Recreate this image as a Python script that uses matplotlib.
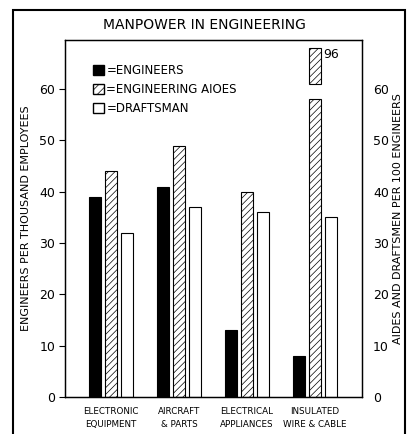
import matplotlib.pyplot as plt
from matplotlib.patches import Rectangle, Patch

categories = ['ELECTRONIC\nEQUIPMENT', 'AIRCRAFT\n& PARTS', 'ELECTRICAL\nAPPLIANCES', 'INSULATED\nWIRE & CABLE']
engineers = [39, 41, 13, 8]
aides = [44, 49, 40, 96]
draftsmen = [32, 37, 36, 35]

# the 96 bar is drawn broken: lower part up to 58, upper piece 61..68
break_low = 58
break_high = 61
break_top = 68

plt.rcParams['font.family'] = 'DejaVu Sans'
plt.rcParams['hatch.linewidth'] = 0.5
plt.rcParams['hatch.color'] = '#555555'

fig = plt.figure(figsize=(4.09, 4.34), dpi=100)
ax = fig.add_axes([0.159, 0.0853, 0.726, 0.823])

x = list(range(len(categories)))
off = 0.235
w = 0.175

ax.bar([i - off for i in x], engineers, w, color='black', edgecolor='black', lw=0.8)

aides_draw = [v if v < break_top else break_low for v in aides]
ax.bar(x, aides_draw, w, color='white', edgecolor='black', hatch='/////', lw=0.8)
for i, v in enumerate(aides):
    if v >= break_top:
        ax.bar(i, break_top - break_high, w, bottom=break_high, color='white',
               edgecolor='black', hatch='/////', lw=0.8)
        ax.text(i + 0.12, break_top - 1.2, str(v), fontsize=9, ha='left', va='center')

ax.bar([i + off for i in x], draftsmen, w, color='white', edgecolor='black', lw=0.8)

ax.set_xlim(-0.676, 3.69)
ax.set_ylim(0, 69.6)
ax.set_xticks(x)
ax.set_xticklabels(categories, fontsize=6.3, linespacing=1.6)
ax.tick_params(axis='x', length=0, pad=7)
ax.set_yticks(range(0, 70, 10))
ax.tick_params(axis='y', labelsize=9, length=4, direction='out', pad=3)
ax.set_ylabel('ENGINEERS PER THOUSAND EMPLOYEES', fontsize=8, labelpad=6)

ax2 = ax.twinx()
ax2.set_ylim(0, 69.6)
ax2.set_yticks(range(0, 70, 10))
ax2.tick_params(axis='y', labelsize=9, length=0, pad=8)
ax2.set_ylabel('AIDES AND DRAFTSMEN PER 100 ENGINEERS', fontsize=8, labelpad=3)

for a in (ax, ax2):
    for s in a.spines.values():
        s.set_linewidth(0.9)

handles = [Patch(facecolor='black', edgecolor='black'),
           Patch(facecolor='white', edgecolor='black', hatch='////'),
           Patch(facecolor='white', edgecolor='black')]
labels = ['=ENGINEERS', '=ENGINEERING AIOES', '=DRAFTSMAN']
ax.legend(handles, labels, loc='upper left', bbox_to_anchor=(0.06, 0.962), frameon=False,
          fontsize=8.5, handlelength=0.9, handleheight=0.9, handletextpad=0.2, labelspacing=0.5)

fig.text(0.5, 0.943, 'MANPOWER IN ENGINEERING', ha='center', va='center', fontsize=10)

fig.patches.append(Rectangle((13 / 409, -0.05), (405 - 13) / 409, 1.05 - 10 / 434,
                             transform=fig.transFigure, fill=False, lw=1.5, edgecolor='black'))

fig.savefig('out.png', dpi=100)
